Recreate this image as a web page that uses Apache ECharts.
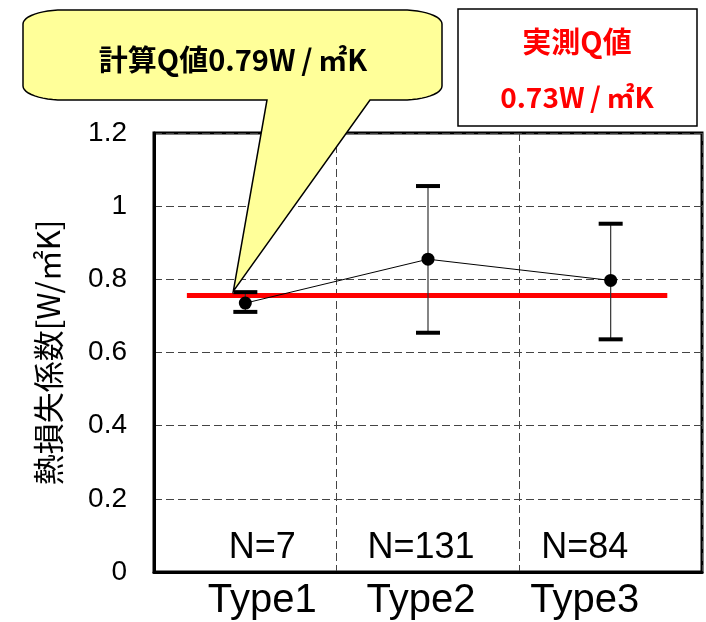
<!DOCTYPE html>
<html><head><meta charset="utf-8">
<script src="https://cdn.jsdelivr.net/npm/echarts/dist/echarts.min.js"></script>
<style>html,body{margin:0;padding:0;background:#fff}#c{width:706px;height:622px}</style>
</head><body><div id="c"></div>
<script>
// ---- data ----
const categories = ['Type1', 'Type2', 'Type3'];
const meanValues = [0.735, 0.855, 0.797];
const upperValues = [0.765, 1.055, 0.952];
const lowerValues = [0.711, 0.654, 0.636];
const sampleCounts = [7, 131, 84];
const yTickLabels = ['0', '0.2', '0.4', '0.6', '0.8', '1', '1.2'];
const measuredLineValue = 0.756;
const measuredLineExtent = [0.18, 2.81];
const calcText = '計算Q値0.79W\u2009/\u2009㎡K';
const measuredTitle = '実測Q値';
const measuredText = '0.73W\u2009/\u2009㎡K';
const yAxisName = '熱損失係数[W/㎡K]';

// ---- layout (not data) ----
const labelShift = [17, -7, -26];
const FONT_JP = '"Noto Sans CJK JP", sans-serif';
const FONT_LAT = '"Liberation Sans", Arial, sans-serif';

const chart = echarts.init(document.getElementById('c'));

const rich = {};
labelShift.forEach((s, i) => {
  rich['s' + i] = {
    fontSize: 40, fontFamily: FONT_LAT, color: '#000',
    padding: s >= 0 ? [0, 0, 0, 2 * s] : [0, -2 * s, 0, 0]
  };
});

chart.setOption({
  animation: false,
  backgroundColor: '#fff',
  grid: { left: 154, right: 4, top: 133, bottom: 50, show: true, borderColor: '#000', borderWidth: 3, backgroundColor: 'transparent' },
  xAxis: [{
    type: 'category', data: categories, boundaryGap: true,
    axisLine: { show: true, lineStyle: { color: '#000', width: 3 } },
    axisTick: { show: false },
    axisLabel: {
      interval: 0, hideOverlap: false,
      margin: 9, color: '#000', fontSize: 40, fontFamily: FONT_LAT,
      formatter: (v, i) => '{s' + i + '|' + v + '}', rich: rich
    },
    splitLine: { show: true, interval: 0, lineStyle: { color: '#444', type: [8, 4], width: 1 } }
  }, {
    type: 'value', min: 0, max: 3, show: false
  }],
  yAxis: {
    type: 'value', min: 0, max: 1.2, interval: 0.2,
    name: yAxisName, nameLocation: 'middle', nameGap: 90, nameRotate: 90,
    nameTextStyle: { fontSize: 31, fontFamily: FONT_JP, color: '#000' },
    axisLine: { show: true, lineStyle: { color: '#000', width: 3 } },
    axisTick: { show: false },
    axisLabel: { margin: 27, fontSize: 28, fontFamily: FONT_LAT, color: '#000',
      formatter: (v) => yTickLabels[Math.round(v / 0.2)] },
    splitLine: { show: true, lineStyle: { color: '#444', type: [8, 4], width: 1 } }
  },
  series: [{
    type: 'line', xAxisIndex: 1, yAxisIndex: 0, z: 3,
    data: measuredLineExtent.map(x => [x, measuredLineValue]),
    symbol: 'none', lineStyle: { color: '#ff0000', width: 5 }, silent: true
  }, {
    type: 'custom', xAxisIndex: 0, yAxisIndex: 0, z: 4,
    data: categories.map((c, i) => [i, lowerValues[i], upperValues[i]]),
    renderItem: (params, api) => {
      const lo = api.coord([api.value(0), api.value(1)]);
      const hi = api.coord([api.value(0), api.value(2)]);
      const hw = 12;
      return { type: 'group', children: [
        { type: 'line', shape: { x1: lo[0], y1: lo[1], x2: hi[0], y2: hi[1] }, style: { stroke: '#333', lineWidth: 1.2 } },
        { type: 'line', shape: { x1: hi[0] - hw, y1: hi[1], x2: hi[0] + hw, y2: hi[1] }, style: { stroke: '#000', lineWidth: 4 } },
        { type: 'line', shape: { x1: lo[0] - hw, y1: lo[1], x2: lo[0] + hw, y2: lo[1] }, style: { stroke: '#000', lineWidth: 4 } }
      ]};
    }
  }, {
    type: 'line', xAxisIndex: 0, yAxisIndex: 0, z: 5,
    data: meanValues, symbol: 'circle', symbolSize: 13,
    itemStyle: { color: '#000' }, lineStyle: { color: '#000', width: 1 }
  }, {
    type: 'custom', xAxisIndex: 0, yAxisIndex: 0, z: 6,
    data: categories.map((c, i) => [i, 0]),
    renderItem: (params, api) => {
      const p = api.coord([api.value(0), 0]);
      const i = params.dataIndex;
      return { type: 'text', style: {
        text: 'N=' + sampleCounts[i], x: p[0] + labelShift[i], y: p[1] - 24,
        align: 'center', verticalAlign: 'middle', fontSize: 36, fontFamily: FONT_LAT, fill: '#000'
      }};
    }
  }]
});

// callout bubble pointing at the Type1 upper cap
const capTop = chart.convertToPixel({ xAxisIndex: 0, yAxisIndex: 0 }, [categories[0], upperValues[0]]);
const tip = [capTop[0] - 12, capTop[1] - 1];

function bubblePoints(tip) {
  const L = 23, R = 442, T = 10, B = 100, rx = 40, ry = 14;
  const pts = [];
  const arc = (cx, cy, a0, a1) => {
    for (let k = 0; k <= 12; k++) {
      const a = a0 + (a1 - a0) * k / 12;
      pts.push([cx + rx * Math.cos(a), cy + ry * Math.sin(a)]);
    }
  };
  arc(L + rx, T + ry, Math.PI, 1.5 * Math.PI);
  arc(R - rx, T + ry, 1.5 * Math.PI, 2 * Math.PI);
  arc(R - rx, B - ry, 0, 0.5 * Math.PI);
  pts.push([370, B]); pts.push(tip); pts.push([267, B]);
  arc(L + rx, B - ry, 0.5 * Math.PI, Math.PI);
  return pts;
}

chart.setOption({
  graphic: [
    { type: 'polygon', z: 100, shape: { points: bubblePoints(tip) },
      style: { fill: '#ffff99', stroke: '#000', lineWidth: 1.5 } },
    { type: 'text', z: 101, style: { text: calcText, x: 233, y: 60, align: 'center', verticalAlign: 'middle',
      fontSize: 29, fontWeight: 'bold', fontFamily: FONT_JP, fill: '#000' } },
    { type: 'rect', z: 100, shape: { x: 458, y: 9, width: 239, height: 117 },
      style: { fill: '#fff', stroke: '#000', lineWidth: 1.5 } },
    { type: 'text', z: 101, style: { text: measuredTitle, x: 577, y: 42, align: 'center', verticalAlign: 'middle',
      fontSize: 29, fontWeight: 'bold', fontFamily: FONT_JP, fill: '#ff0000' } },
    { type: 'text', z: 101, style: { text: measuredText, x: 577, y: 97, align: 'center', verticalAlign: 'middle',
      fontSize: 28, fontWeight: 'bold', fontFamily: FONT_JP, fill: '#ff0000' } }
  ]
});
</script></body></html>
